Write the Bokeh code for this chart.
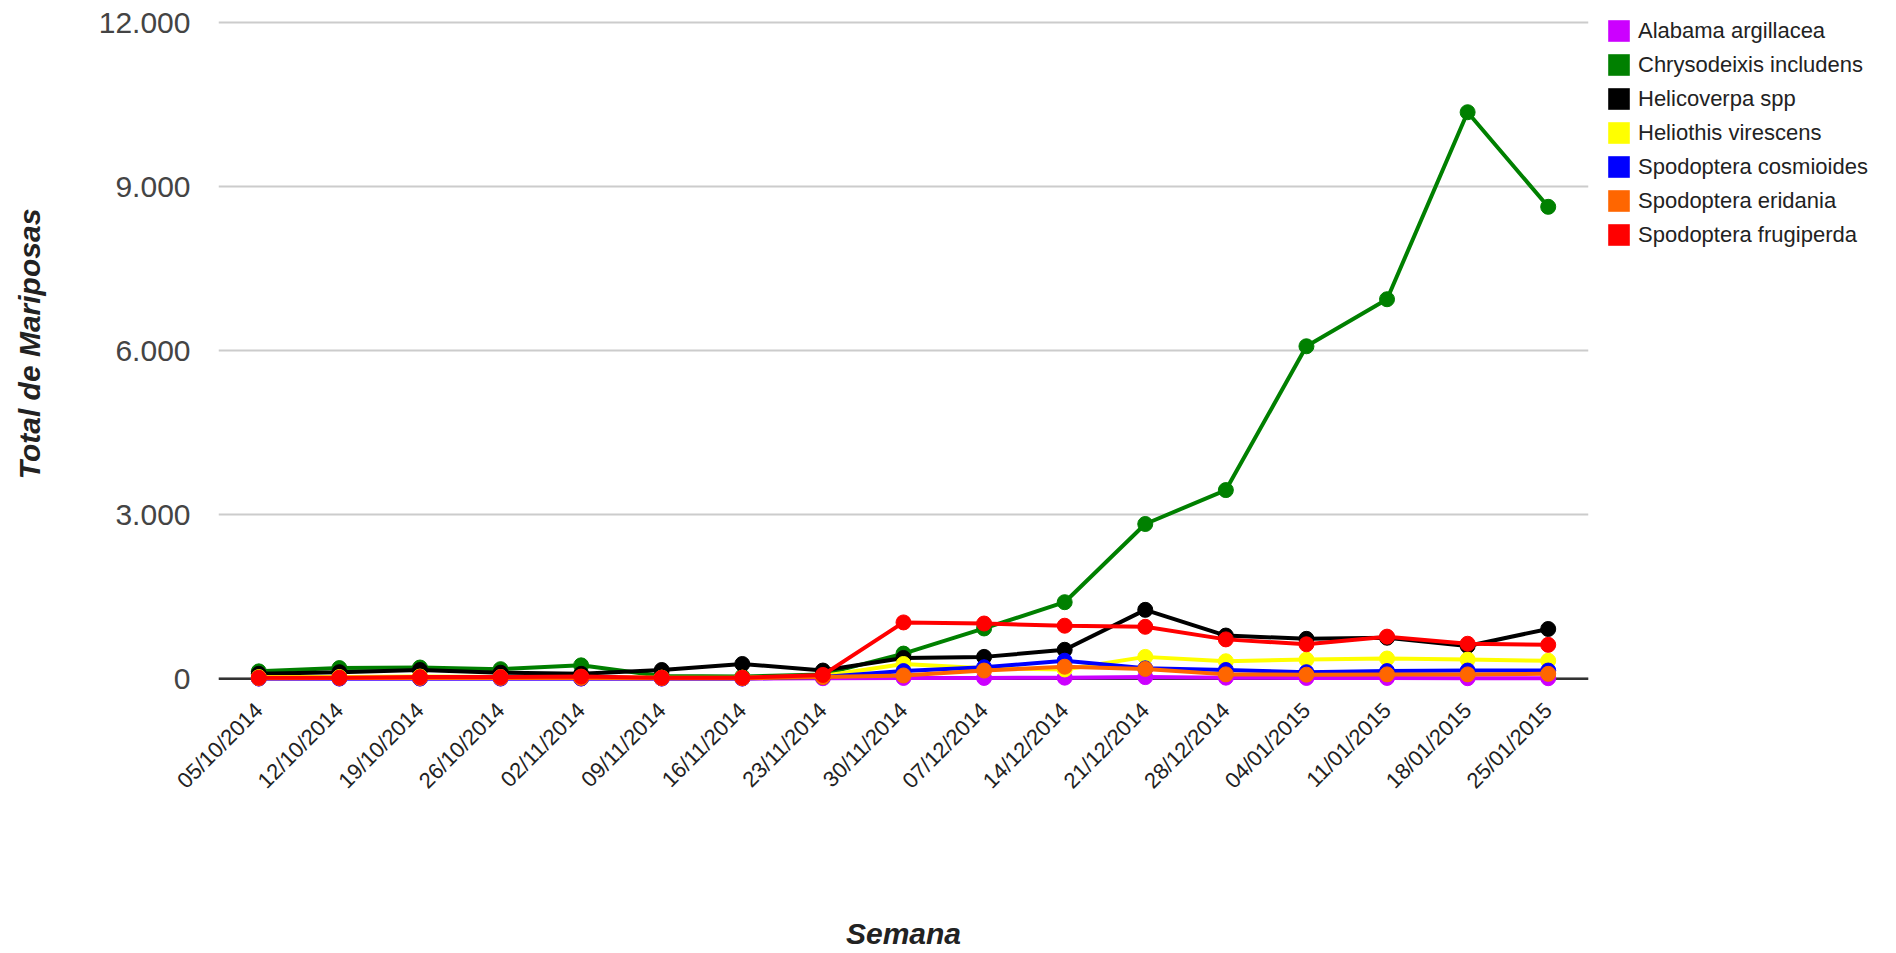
import math
from bokeh.plotting import figure
from bokeh.models import FactorRange, Range1d, FixedTicker, Span, Legend, LegendItem
from bokeh.embed import file_html
from bokeh.resources import INLINE

dates = ["05/10/2014", "12/10/2014", "19/10/2014", "26/10/2014", "02/11/2014",
         "09/11/2014", "16/11/2014", "23/11/2014", "30/11/2014", "07/12/2014",
         "14/12/2014", "21/12/2014", "28/12/2014", "04/01/2015", "11/01/2015",
         "18/01/2015", "25/01/2015"]

alabama = [5, 5, 5, 5, 5, 5, 5, 10, 15, 15, 20, 30, 20, 15, 15, 10, 10]
chrysodeixis = [135, 195, 205, 175, 245, 50, 40, 80, 460, 920, 1400, 2830, 3450, 6080, 6940, 10360, 8630]
helicoverpa = [90, 120, 160, 110, 90, 160, 270, 150, 380, 400, 530, 1260, 790, 730, 750, 600, 910]
heliothis = [30, 30, 40, 30, 30, 20, 20, 50, 270, 190, 170, 400, 320, 350, 370, 350, 330]
cosmioides = [5, 5, 5, 5, 5, 5, 5, 30, 140, 210, 330, 190, 160, 120, 140, 150, 150]
eridania = [10, 15, 15, 15, 15, 10, 10, 30, 60, 150, 220, 180, 80, 75, 80, 80, 90]
frugiperda = [20, 20, 30, 30, 40, 20, 20, 70, 1030, 1010, 970, 950, 720, 630, 770, 640, 620]

series_names = ["Alabama argillacea", "Chrysodeixis includens", "Helicoverpa spp",
                "Heliothis virescens", "Spodoptera cosmioides", "Spodoptera eridania",
                "Spodoptera frugiperda"]
series_values = [alabama, chrysodeixis, helicoverpa, heliothis, cosmioides, eridania, frugiperda]
series_colors = ["#cc00ff", "#008000", "#000000", "#ffff00", "#0000ff", "#ff6600", "#ff0000"]

y_ticks = [0, 3000, 6000, 9000, 12000]
y_tick_labels = ["0", "3.000", "6.000", "9.000", "12.000"]

FONT = "Liberation Sans"

p = figure(x_range=FactorRange(factors=dates, range_padding=0),
           y_range=Range1d(-160, 12403),
           frame_width=1370, frame_height=687,
           output_backend="svg", toolbar_location=None,
           min_border_left=218, min_border_right=292, min_border_top=0, min_border_bottom=10)
p.outline_line_color = None
p.background_fill_color = "white"
p.border_fill_color = "white"

p.xgrid.grid_line_color = None
p.ygrid.grid_line_color = "#cccccc"
p.ygrid.grid_line_width = 2

p.yaxis.ticker = FixedTicker(ticks=y_ticks)
p.yaxis.major_label_overrides = {t: l for t, l in zip(y_ticks, y_tick_labels)}
p.yaxis.axis_line_color = None
p.yaxis.major_tick_line_color = None
p.yaxis.major_tick_out = 0
p.yaxis.major_tick_in = 0
p.yaxis.minor_tick_line_color = None
p.yaxis.minor_tick_out = 0
p.yaxis.major_label_text_font = FONT
p.yaxis.major_label_text_font_size = "30px"
p.yaxis.major_label_text_color = "#444444"
p.yaxis.major_label_standoff = 28
p.yaxis.axis_label = "Total de Mariposas"
p.yaxis.axis_label_text_font = FONT
p.yaxis.axis_label_text_font_style = "bold italic"
p.yaxis.axis_label_text_font_size = "30px"
p.yaxis.axis_label_text_color = "#222222"
p.yaxis.axis_label_standoff = 50

p.xaxis.axis_line_color = None
p.xaxis.major_tick_line_color = None
p.xaxis.major_tick_out = 0
p.xaxis.major_tick_in = 0
p.xaxis.minor_tick_line_color = None
p.xaxis.major_label_orientation = math.pi / 4
p.xaxis.major_label_text_font = FONT
p.xaxis.major_label_text_font_size = "22px"
p.xaxis.major_label_text_color = "#222222"
p.xaxis.major_label_standoff = 19
p.xaxis.axis_label = "Semana"
p.xaxis.axis_label_text_font = FONT
p.xaxis.axis_label_text_font_style = "bold italic"
p.xaxis.axis_label_text_font_size = "30px"
p.xaxis.axis_label_text_color = "#222222"
p.xaxis.axis_label_standoff = 112

baseline = Span(location=0, dimension="width", line_color="#333333", line_width=2.5, level="underlay")
p.add_layout(baseline)

for vals, col in zip(series_values, series_colors):
    p.line(dates, vals, line_color=col, line_width=4)
    p.scatter(dates, vals, size=15, fill_color=col, line_color=col)

items = []
for name, col in zip(series_names, series_colors):
    r = p.quad(left=[dates[0]], right=[dates[1]], top=[-3000], bottom=[-4000],
               fill_color=col, line_color=None)
    items.append(LegendItem(label=name, renderers=[r]))

legend = Legend(items=items, location="top_left")
legend.margin = 17
legend.padding = 12
legend.glyph_width = 27
legend.glyph_height = 27
legend.spacing = 7
legend.label_standoff = 6
legend.label_text_font = FONT
legend.label_text_font_size = "22px"
legend.label_text_color = "#222222"
legend.border_line_color = None
legend.background_fill_alpha = 0
p.add_layout(legend, "right")

open("out.html", "w").write(file_html(p, INLINE))
